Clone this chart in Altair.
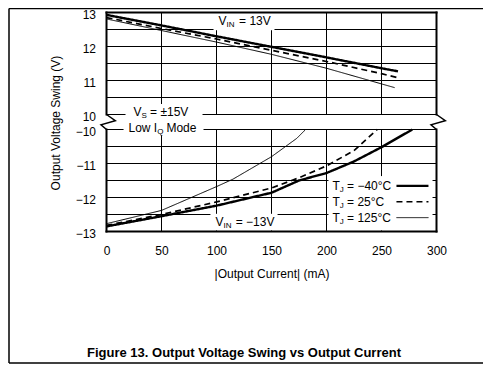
import altair as alt
import pandas as pd

# ---------------- data ----------------
TEMPS = ["-40", "25", "125"]

# upper section (V_IN = 13 V)
I_TOP_M40 = [0, 50, 100, 150, 200, 250, 265]
V_TOP_M40 = [12.93, 12.62, 12.30, 11.99, 11.68, 11.36, 11.27]
I_TOP_25 = [0, 50, 100, 150, 200, 250, 265]
V_TOP_25 = [12.85, 12.53, 12.22, 11.89, 11.56, 11.20, 11.08]
I_TOP_125 = [0, 50, 100, 150, 200, 250, 262]
V_TOP_125 = [12.81, 12.47, 12.13, 11.77, 11.36, 10.90, 10.79]

# lower section (V_IN = -13 V)
I_BOT_M40 = [0, 50, 100, 150, 175, 200, 225, 250, 278]
V_BOT_M40 = [-12.85, -12.55, -12.24, -11.86, -11.50, -11.28, -10.94, -10.52, -10.0]
I_BOT_25 = [0, 50, 100, 150, 175, 200, 225, 246]
V_BOT_25 = [-12.82, -12.50, -12.13, -11.72, -11.42, -11.07, -10.62, -10.0]
I_BOT_125 = [0, 50, 100, 115, 150, 173, 181]
V_BOT_125 = [-12.77, -12.38, -11.68, -11.46, -10.80, -10.26, -10.0]

X_TICKS = [0, 50, 100, 150, 200, 250, 300]
Y_TOP_TICKS = [10, 11, 12, 13]
Y_BOT_TICKS = [-13, -12, -11, -10]
Y_TOP_GRID = [10, 10.5, 11, 11.5, 12, 12.5]
Y_BOT_GRID = [-12.5, -12, -11.5, -11, -10.5, -10]
X_GRID = [50, 100, 150, 200, 250]

GAP = 15 / 34  # broken-axis gap between +10 and -10 (plot units)


def u_top(v):
    return v - 10 + 3 + GAP


def u_bot(v):
    return v + 13


U_MAX = u_top(13)
U_BRK_LO = u_bot(-10)
U_BRK_HI = u_top(10)
FONT = "Liberation Sans"

# ---------------- tables ----------------
rows = []
for t, sec, I, V, f in [
    ("-40", "top", I_TOP_M40, V_TOP_M40, u_top),
    ("25", "top", I_TOP_25, V_TOP_25, u_top),
    ("125", "top", I_TOP_125, V_TOP_125, u_top),
    ("-40", "bot", I_BOT_M40, V_BOT_M40, u_bot),
    ("25", "bot", I_BOT_25, V_BOT_25, u_bot),
    ("125", "bot", I_BOT_125, V_BOT_125, u_bot),
]:
    for k, (i, v) in enumerate(zip(I, V)):
        rows.append({"temp": t, "series": t + sec, "I": i, "u": f(v), "k": k})
curves = pd.DataFrame(rows)

# white backgrounds behind the annotations (I, I2, u, u2)
BOXES = [
    (97.3, 152.7, 5.92, U_MAX),
    (17.3, 87.3, 3.30, 3.75),
    (15.5, 88.2, 2.83, 3.27),
    (94.5, 155.5, 0.03, 0.52),
    (201.8, 296.4, 0.03, 1.63),
]
boxes = pd.DataFrame([{"I": a, "I2": b, "u": c, "u2": d} for a, b, c, d in BOXES])


def cut(a, b, holes):
    """Interval [a, b] minus the given holes."""
    parts = [(a, b)]
    for h0, h1 in holes:
        nxt = []
        for p0, p1 in parts:
            if h1 <= p0 or h0 >= p1:
                nxt.append((p0, p1))
            else:
                if h0 > p0:
                    nxt.append((p0, h0))
                if h1 < p1:
                    nxt.append((h1, p1))
        parts = nxt
    return parts


# grid segments, interrupted where an annotation sits
seg = []
for uu in [u_top(v) for v in Y_TOP_GRID] + [u_bot(v) for v in Y_BOT_GRID]:
    holes = [(a, b) for a, b, c, d in BOXES if c < uu < d]
    for p0, p1 in cut(0, 300, holes):
        seg.append({"I": p0, "I2": p1, "u": uu, "u2": uu})
for x in X_GRID:
    holes = [(c, d) for a, b, c, d in BOXES if a < x < b]
    for lo, hi in [(0, U_BRK_LO), (U_BRK_HI, U_MAX)]:
        for p0, p1 in cut(lo, hi, holes):
            seg.append({"I": x, "I2": x, "u": p0, "u2": p1})
grid = pd.DataFrame(seg)

# thick plot border segments
bseg = [
    {"I": 0, "I2": 300, "u": 0, "u2": 0},
    {"I": 0, "I2": 300, "u": U_MAX, "u2": U_MAX},
]
for x in [0, 300]:
    bseg.append({"I": x, "I2": x, "u": 0, "u2": U_BRK_LO})
    bseg.append({"I": x, "I2": x, "u": U_BRK_HI, "u2": U_MAX})
border = pd.DataFrame(bseg)

ZIG_DI = [0, 8, -5, 0]
ZIG_U = [U_BRK_HI, 3.26, 3.14, U_BRK_LO]
zig = pd.DataFrame(
    [{"side": "L", "k": k, "I": 0 + di, "u": uu} for k, (di, uu) in enumerate(zip(ZIG_DI, ZIG_U))]
    + [{"side": "R", "k": k, "I": 300 + di, "u": uu} for k, (di, uu) in enumerate(zip(ZIG_DI, ZIG_U))]
)

LEG_U = [1.341, 0.875, 0.408]
LEG_TXT = ["= \u221240\u00b0C", "= 25\u00b0C", "= 125\u00b0C"]
texts = [
    {"txt": "V", "I": 101.8, "u": 6.18, "fs": 12},
    {"txt": "IN", "I": 109.1, "u": 6.06, "fs": 8},
    {"txt": "= 13V", "I": 120.5, "u": 6.18, "fs": 12},
    {"txt": "V", "I": 24.5, "u": 3.51, "fs": 12},
    {"txt": "S", "I": 31.8, "u": 3.40, "fs": 8},
    {"txt": "= \u00b115V", "I": 39.6, "u": 3.51, "fs": 12},
    {"txt": "Low I", "I": 20.0, "u": 3.03, "fs": 12},
    {"txt": "Q", "I": 46.2, "u": 2.92, "fs": 8},
    {"txt": "Mode", "I": 54.5, "u": 3.03, "fs": 12},
    {"txt": "V", "I": 99.1, "u": 0.29, "fs": 12},
    {"txt": "IN", "I": 106.4, "u": 0.175, "fs": 8},
    {"txt": "= \u221213V", "I": 117.5, "u": 0.29, "fs": 12},
]
for uu, tt in zip(LEG_U, LEG_TXT):
    texts += [
        {"txt": "T", "I": 205.5, "u": uu, "fs": 12},
        {"txt": "J", "I": 212.1, "u": uu - 0.117, "fs": 8},
        {"txt": tt, "I": 218.7, "u": uu, "fs": 12},
    ]
texts = pd.DataFrame(texts)
legend_lines = pd.DataFrame(
    [{"temp": t, "I": 263.6, "I2": 292.7, "u": uu, "u2": uu} for t, uu in zip(TEMPS, LEG_U)]
)
anchor = pd.DataFrame([{"I": 0, "u": 0}])

# ---------------- encodings ----------------
xs = alt.Scale(domain=[0, 300], nice=False, zero=False)
ys = alt.Scale(domain=[0, U_MAX], nice=False, zero=False)
xaxis = alt.Axis(
    values=X_TICKS, format="d", grid=False, ticks=False, domain=False,
    labelFont=FONT, labelFontSize=12, labelColor="black", labelPadding=14,
    labelFlush=False, labelOverlap=False,
    title="|Output Current| (mA)", titleFont=FONT, titleFontSize=12,
    titleFontWeight="normal", titleColor="black", titlePadding=12,
)
ylabel_expr = (
    "replace(format(datum.value < 3.2 ? round(datum.value - 13) : "
    f"round(datum.value - ({GAP + 3 - 10})), 'd'), '-', '\u2212')"
)
yaxis = alt.Axis(
    values=[u_bot(v) for v in Y_BOT_TICKS] + [u_top(v) for v in Y_TOP_TICKS],
    labelExpr=ylabel_expr, grid=False, ticks=False, domain=False,
    labelFont=FONT, labelFontSize=12, labelColor="black", labelPadding=11,
    labelFlush=False, labelOverlap=False, labelOffset=1.5,
    title="Output Voltage Swing (V)", titleFont=FONT, titleFontSize=12,
    titleFontWeight="normal", titleColor="black",
    titleAngle=270, titleX=-51.5, titleY=110, titleAlign="center", titleBaseline="middle",
)
X = alt.X("I:Q", scale=xs, axis=xaxis)
Y = alt.Y("u:Q", scale=ys, axis=yaxis)
dash = alt.StrokeDash("temp:N", scale=alt.Scale(domain=TEMPS, range=[[1, 0], [6, 4], [1, 0]]), legend=None)
sw = alt.StrokeWidth("temp:N", scale=alt.Scale(domain=TEMPS, range=[2.4, 1.0, 1.0]), legend=None)

box_l = alt.Chart(boxes).mark_rect(color="white").encode(x=X, x2="I2:Q", y=Y, y2="u2:Q")
lines = alt.Chart(curves).mark_line(color="black").encode(
    x=X, y=Y, strokeDash=dash, strokeWidth=sw, detail="series:N", order="k:Q"
)
leg_l = alt.Chart(legend_lines).mark_rule(color="black").encode(
    x=X, x2="I2:Q", y=Y, y2="u2:Q", strokeDash=dash, strokeWidth=sw
)
bord_l = alt.Chart(border).mark_rule(color="black", strokeWidth=2, strokeCap="square").encode(
    x=X, x2="I2:Q", y=Y, y2="u2:Q"
)
zig_l = alt.Chart(zig).mark_line(color="black", strokeWidth=1.5).encode(
    x=X, y=Y, detail="side:N", order="k:Q"
)
txt_l = alt.Chart(texts).mark_text(align="left", baseline="middle", font=FONT, color="black").encode(
    x=X, y=Y, text="txt:N", size=alt.Size("fs:Q", scale=None)
)
grid_l = alt.Chart(grid).mark_rule(color="black", strokeWidth=1).encode(
    x=X, x2="I2:Q", y=Y, y2="u2:Q"
)

# outer figure frame and caption
frame_top = alt.Chart(anchor).mark_rule(color="black", strokeWidth=1.5).encode(
    x=alt.value(-97.5), x2=alt.value(376.5), y=alt.value(-4)
)
frame_left = alt.Chart(anchor).mark_rule(color="black", strokeWidth=1.5).encode(
    x=alt.value(-97.5), y=alt.value(-4), y2=alt.value(350.5)
)
frame_bot = alt.Chart(anchor).mark_rule(color="black", strokeWidth=1.5).encode(
    x=alt.value(-97.5), x2=alt.value(376.5), y=alt.value(350.5)
)
caption = alt.Chart(anchor).mark_text(
    font=FONT, fontSize=13, fontWeight="bold", color="black", align="center", baseline="middle"
).encode(x=alt.value(137.5), y=alt.value(340.5), text=alt.value("Figure 13. Output Voltage Swing vs Output Current"))

chart = alt.layer(
    box_l, lines, bord_l, zig_l, leg_l, txt_l,
    frame_top, frame_left, frame_bot, caption, grid_l,
).properties(
    width=330, height=219,
    autosize=alt.AutoSizeParams(type="none"),
    padding={"left": 98.5, "top": 4.5, "right": 46.5, "bottom": 132.5},
    background="white",
).configure_view(stroke=None)

chart.save("out.html", embed_options={"renderer": "svg", "actions": False})
